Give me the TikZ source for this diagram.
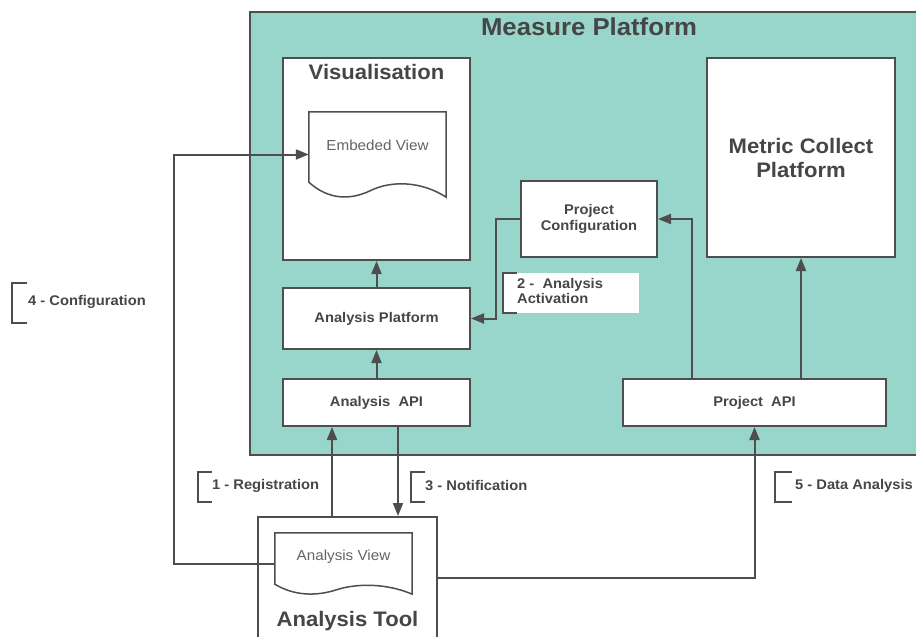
\documentclass[tikz,border=0pt]{standalone}
\usepackage{fontspec}
\setmainfont{Liberation Sans}[FakeStretch=1.05]
\usetikzlibrary{arrows.meta,calc}

\definecolor{mpteal}{RGB}{152,213,203}
\definecolor{linegray}{RGB}{78,78,78}
\definecolor{textgray}{RGB}{70,70,70}
\definecolor{softgray}{RGB}{100,100,100}

\newcommand\mplabelfont{\fontsize{14}{15.5}\selectfont\bfseries}
\newcommand\mpbigfont{\fontsize{21}{24}\selectfont\bfseries}

% document-shaped outline: flat top, wavy bottom; #2 = rise of the left end
\newcommand\docshape[2]{%
  \draw[doc] ($(#1.south west)+(0,-#2)$) -- (#1.north west) -- (#1.north east) -- (#1.south east)
    .. controls ($(#1.south west)+({112},{-1.1*#2})$) and ($(#1.south west)+({82},{-1.1*#2})$) ..
       ($(#1.south west)+({62},{-0.45*#2})$)
    .. controls ($(#1.south west)+({42},{0.2*#2})$) and ($(#1.south west)+({20},{0.2*#2})$) ..
       ($(#1.south west)+(0,-#2)$) -- cycle;}

% open square bracket in front of a step label
\newcommand\stepbracket[4]{%
  \draw[bracket] (#1+#4,#2) -- (#1,#2) -- (#1,#3) -- (#1+#4,#3);}

\begin{document}
\begin{tikzpicture}[x=1pt,y=-1pt,
  platform/.style={draw=linegray, line width=2.2pt, fill=mpteal, inner sep=0pt},
  box/.style={draw=linegray, line width=2pt, fill=white, inner sep=0pt,
              text=textgray, font=\mplabelfont, align=center},
  bigbox/.style={box, font=\mpbigfont},
  ghost/.style={inner sep=0pt, draw=none},
  doc/.style={draw=linegray, line width=1.5pt, fill=white},
  doctext/.style={inner sep=0pt, text=softgray, font=\fontsize{14.5}{16}\selectfont},
  title/.style={inner sep=0pt, text=textgray, font=\mpbigfont},
  conn/.style={draw=linegray, line width=2pt},
  arr/.style={conn, -{Triangle[length=13pt,width=10pt]}},
  bracket/.style={draw=linegray, line width=2pt},
  tag/.style={anchor=west, inner sep=0pt, text=textgray, font=\mplabelfont, align=left},
]
\useasboundingbox (0,0) rectangle (916,637);
\fill[white] (0,0) rectangle (916,637);

% Measure Platform container (runs past the right edge)
\node[platform, minimum width=675pt, minimum height=443pt] (mp) at (587.5,233.5) {};
\node[title, font=\fontsize{24.5}{28}\selectfont\bfseries] (mptitle) at (589,27) {Measure Platform};

% Visualisation with its embedded view
\node[box, minimum width=187pt, minimum height=202pt] (vis) at (376.5,159) {};
\node[title] (vistitle) at (376.5,72) {Visualisation};
\node[ghost, minimum width=137pt, minimum height=85pt] (emb) at (377.5,154.5) {};
\docshape{emb}{15}
\node[doctext] (embtxt) at (377.5,145) {Embeded View};

% Right-hand blocks
\node[bigbox, minimum width=188pt, minimum height=199pt] (mc) at (801,157.5) {Metric Collect\\Platform};
\node[box, minimum width=136pt, minimum height=76pt] (pc) at (589,219) {Project\\Configuration};

% Analysis stack
\node[box, minimum width=187pt, minimum height=61pt] (ap) at (376.5,318.5) {Analysis Platform};
\node[box, minimum width=187pt, minimum height=47pt] (aapi) at (376.5,402.5) {Analysis\ \ API};
\node[box, minimum width=263pt, minimum height=47pt] (papi) at (754.5,402.5) {Project\ \ API};

% Analysis Tool (cut by the lower edge)
\node[box, minimum width=179pt, minimum height=122pt] (at) at (347.5,578) {};
\node[title] (attitle) at (347.5,621) {Analysis Tool};
\node[ghost, minimum width=137pt, minimum height=61pt] (av) at (343.5,563.5) {};
\docshape{av}{10}
\node[doctext] (avtxt) at (343.5,557) {Analysis View};

% Step labels
\fill[white] (503,273) rectangle (639,313);
\stepbracket{503}{273}{313}{14}
\node[tag] (l2) at (517,291) {2 -\ \ Analysis\\Activation};
\stepbracket{12}{283}{323}{15}
\node[tag] (l4) at (28,302) {4 - Configuration};
\stepbracket{198}{472}{502}{14}
\node[tag] (l1) at (212,486) {1 - Registration};
\stepbracket{411}{472}{502}{14}
\node[tag] (l3) at (425,486) {3 - Notification};
\stepbracket{775}{472}{502}{17}
\node[tag] (l5) at (795,486) {5 - Data Analysis};

% Routing guides
\coordinate (actx) at (496,0);
\coordinate (pcx) at (692,0);
\coordinate (regx) at (332,0);
\coordinate (notx) at (398,0);
\coordinate (cfgx) at (174,0);

% Connectors
\draw[arr] (ap.north) -- (vis.south);
\draw[arr] (aapi.north) -- (ap.south);
\draw[arr] (pc.west) -| (actx |- ap.east) -- (ap.east);
\draw[arr] (pcx |- papi.north) |- (pc.east);
\draw[arr] (papi.north -| mc.south) -- (mc.south);
\draw[arr] (regx |- at.north) -- (regx |- aapi.south);
\draw[arr] (notx |- aapi.south) -- (notx |- at.north);
\draw[arr] (av.west) -| (cfgx |- emb.west) -- (emb.west);
\draw[arr] (at.east) -| (papi.south);
\end{tikzpicture}
\end{document}
